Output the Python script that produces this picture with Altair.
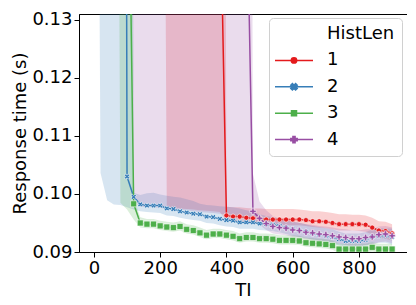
import math
import altair as alt
import pandas as pd

# ---------------- data ----------------
TI = list(range(0, 901, 20))
SERIES = ["1", "2", "3", "4"]
COLORS = ["#e41a1c", "#377eb8", "#4daf4a", "#984ea3"]
LEGEND_TITLE = "HistLen"

red_mean = [0.35] * 19 + [0.155, 0.0963, 0.0961, 0.0961, 0.0959, 0.0958, 0.0958, 0.0956, 0.0956, 0.0956,
                          0.0956, 0.0956, 0.0956, 0.0955, 0.0953, 0.0953, 0.0952, 0.0950, 0.0948, 0.0948,
                          0.0948, 0.0948, 0.0947, 0.0942, 0.0937, 0.0936, 0.0932]
red_lo = [0.3] * 11 + [0.0978, 0.0976, 0.0975, 0.0974, 0.0973, 0.0972, 0.0971, 0.0970, 0.0969, 0.0954,
                       0.0952, 0.0952, 0.0950, 0.0949, 0.0948, 0.0946, 0.0946, 0.0946, 0.0946, 0.0946,
                       0.0946, 0.0945, 0.0943, 0.0942, 0.0941, 0.0939, 0.0937, 0.0937, 0.0937, 0.0936,
                       0.0935, 0.0930, 0.0925, 0.0923, 0.0920]
red_hi = [0.5] * 20 + [0.0978, 0.0977, 0.0977, 0.0976, 0.0975, 0.0975, 0.0974, 0.0974, 0.0974, 0.0974,
                       0.0974, 0.0973, 0.0972, 0.0970, 0.0970, 0.0969, 0.0967, 0.0965, 0.0965, 0.0964,
                       0.0964, 0.0963, 0.0959, 0.0953, 0.0952, 0.0948]

blue_mean = [0.6] * 5 + [0.1030, 0.0995, 0.0982, 0.0980, 0.0980, 0.0980, 0.0975, 0.0974, 0.0970, 0.0968,
                         0.0966, 0.0965, 0.0961, 0.0960, 0.0957, 0.0955, 0.0954, 0.0951, 0.0951, 0.0951,
                         0.0949, 0.0948, 0.0947, 0.0945, 0.0942, 0.0939, 0.0937, 0.0935, 0.0932, 0.0930,
                         0.0928, 0.0926, 0.0922, 0.0919, 0.0919, 0.0919, 0.0921, 0.0926, 0.0928, 0.0928,
                         0.0926]
blue_lo = [0.3, 0.1036, 0.0989, 0.0982, 0.0981, 0.0977, 0.0973, 0.0970, 0.0969, 0.0968,
           0.0967, 0.0963, 0.0962, 0.0959, 0.0957, 0.0955, 0.0954, 0.0950, 0.0949, 0.0946,
           0.0944, 0.0943, 0.0940, 0.0940, 0.0940, 0.0938, 0.0937, 0.0936, 0.0934, 0.0931,
           0.0928, 0.0926, 0.0924, 0.0921, 0.0919, 0.0917, 0.0915, 0.0911, 0.0908, 0.0908,
           0.0908, 0.0910, 0.0914, 0.0916, 0.0916, 0.0913]
blue_hi = [0.5] * 6 + [0.1002, 0.0998, 0.1001, 0.1002, 0.0999, 0.0997, 0.0995, 0.0994, 0.0991, 0.0988,
                       0.0983, 0.0981, 0.0980, 0.0979, 0.0978, 0.0977, 0.0975, 0.0972, 0.0969, 0.0965,
                       0.0962, 0.0960, 0.0958, 0.0955, 0.0952, 0.0950, 0.0948, 0.0945, 0.0943, 0.0941,
                       0.0939, 0.0935, 0.0932, 0.0932, 0.0932, 0.0934, 0.0939, 0.0941, 0.0941, 0.0940]

green_mean = [0.4] * 5 + [0.180, 0.0983, 0.0950, 0.0948, 0.0948, 0.0945, 0.0943, 0.0942, 0.0944, 0.0939,
                          0.0937, 0.0933, 0.0929, 0.0931, 0.0931, 0.0929, 0.0927, 0.0923, 0.0925, 0.0925,
                          0.0923, 0.0923, 0.0922, 0.0920, 0.0920, 0.0920, 0.0919, 0.0916, 0.0915, 0.0914,
                          0.0913, 0.0911, 0.0905, 0.0905, 0.0905, 0.0905, 0.0905, 0.0908, 0.0905, 0.0905,
                          0.0905]
green_lo = [0.3] * 4 + [0.0985, 0.0973, 0.0956, 0.0942, 0.0941, 0.0941, 0.0938, 0.0936, 0.0935, 0.0937,
                        0.0932, 0.0930, 0.0926, 0.0922, 0.0924, 0.0924, 0.0922, 0.0920, 0.0916, 0.0918,
                        0.0918, 0.0916, 0.0916, 0.0915, 0.0913, 0.0913, 0.0913, 0.0912, 0.0909, 0.0908,
                        0.0907, 0.0906, 0.0904, 0.0898, 0.0898, 0.0898, 0.0898, 0.0898, 0.0901, 0.0898,
                        0.0898, 0.0898]
green_hi = [0.5] * 6 + [0.0992, 0.0960, 0.0957, 0.0957, 0.0954, 0.0952, 0.0951, 0.0953, 0.0948, 0.0946,
                        0.0942, 0.0938, 0.0940, 0.0940, 0.0938, 0.0936, 0.0932, 0.0934, 0.0934, 0.0932,
                        0.0932, 0.0931, 0.0929, 0.0929, 0.0929, 0.0928, 0.0925, 0.0924, 0.0923, 0.0922,
                        0.0920, 0.0914, 0.0914, 0.0914, 0.0914, 0.0914, 0.0917, 0.0914, 0.0914, 0.0914]

purple_mean = [0.3] * 23 + [0.157, 0.0970, 0.0958, 0.0949, 0.0944, 0.0942, 0.0941, 0.0938, 0.0937, 0.0934,
                            0.0933, 0.0931, 0.0930, 0.0928, 0.0926, 0.0925, 0.0923, 0.0923, 0.0925, 0.0926,
                            0.0930, 0.0931, 0.0928]
purple_lo = [0.3] * 6 + [0.0987, 0.0978, 0.0977, 0.0977, 0.0976, 0.0975, 0.0974, 0.0973, 0.0972, 0.0970,
                         0.0969, 0.0968, 0.0967, 0.0966, 0.0965, 0.0964, 0.0963, 0.0961, 0.0957, 0.0947,
                         0.0938, 0.0932, 0.0930, 0.0929, 0.0926, 0.0925, 0.0922, 0.0921, 0.0919, 0.0918,
                         0.0916, 0.0914, 0.0912, 0.0910, 0.0910, 0.0912, 0.0913, 0.0917, 0.0918, 0.0915]
purple_hi = [0.5] * 24 + [0.1035, 0.0987, 0.0972, 0.0962, 0.0957, 0.0955, 0.0952, 0.0951, 0.0948, 0.0947,
                          0.0945, 0.0944, 0.0942, 0.0940, 0.0939, 0.0937, 0.0937, 0.0939, 0.0940, 0.0944,
                          0.0945, 0.0942]

X_TICKS = [0, 200, 400, 600, 800]
Y_TICKS = [0.09, 0.10, 0.11, 0.12, 0.13]

# ---------------- table ----------------
means = [red_mean, blue_mean, green_mean, purple_mean]
los = [red_lo, blue_lo, green_lo, purple_lo]
his = [red_hi, blue_hi, green_hi, purple_hi]
rows = []
for s, m, lo, hi in zip(SERIES, means, los, his):
    for t, a, b, c in zip(TI, m, lo, hi):
        rows.append({"TI": t, "HistLen": s, "mean": a, "lo": b, "hi": c})
df = pd.DataFrame(rows)

# ---------------- marker shapes (styling) ----------------
def poly(pts, k=1.0):
    return "M" + "L".join(f"{x*k:.3f},{y*k:.3f}" for x, y in pts) + "Z"

w = 0.34
plus_pts = [(-1, -w), (-w, -w), (-w, -1), (w, -1), (w, -w), (1, -w),
            (1, w), (w, w), (w, 1), (-w, 1), (-w, w), (-1, w)]
r2 = math.sqrt(2)
x_pts = [((x - y) / r2, (x + y) / r2) for x, y in plus_pts]
X_PATH = poly(x_pts)
PLUS_PATH = poly(plus_pts)

LINE = "M-19,0H19"
LEG_SHAPES = [
    "M0,0",  # title row: no symbol (seaborn-style legend title)
    LINE + "M-2.7,0A2.7,2.7,0,1,1,2.7,0A2.7,2.7,0,1,1,-2.7,0Z",
    LINE + poly(x_pts, 3.4),
    LINE + "M-2.5,-2.5H2.5V2.5H-2.5Z",
    LINE + poly(plus_pts, 3.2),
]
LEG_DOMAIN = [LEGEND_TITLE] + SERIES
LEG_COLORS = ["white"] + COLORS

FONT = "DejaVu Sans"
FS = 18

x_enc = alt.X("TI:Q", scale=alt.Scale(domain=[-45, 945], nice=False, zero=False),
              axis=alt.Axis(values=X_TICKS, title="TI", grid=False))
color_enc = alt.Color("HistLen:N", scale=alt.Scale(domain=SERIES, range=COLORS), legend=None)
y_scale = alt.Scale(domain=[0.09, 0.131], nice=False, zero=False)

base = alt.Chart(df)

bands = base.mark_area(opacity=0.2, clip=True).encode(
    x=x_enc,
    y=alt.Y("lo:Q", scale=y_scale,
            axis=alt.Axis(values=Y_TICKS, format=".2f", title="Response time (s)", grid=False)),
    y2="hi:Q",
    color=color_enc,
)

lines = base.mark_line(strokeWidth=1.5, clip=True).encode(
    x=x_enc,
    y=alt.Y("mean:Q", scale=y_scale),
    color=color_enc,
)

points = base.mark_point(filled=True, opacity=1, stroke="white", strokeWidth=0.6, clip=True).encode(
    x=x_enc,
    y=alt.Y("mean:Q", scale=y_scale),
    color=color_enc,
    shape=alt.Shape("HistLen:N", scale=alt.Scale(domain=SERIES, range=["circle", X_PATH, "square", PLUS_PATH]),
                    legend=None),
    size=alt.Size("HistLen:N", scale=alt.Scale(domain=SERIES, range=[26, 42, 24, 40]), legend=None),
)

legend = alt.Legend(
    title=None, orient="none", legendX=190, legendY=4, padding=7,
    strokeColor="#d0d0d0", fillColor="white", cornerRadius=4,
    labelFont=FONT, labelFontSize=FS, labelColor="black",
    labelOffset=24, symbolSize=4, symbolOffset=9, rowPadding=8.4,
    symbolOpacity=1, symbolStrokeWidth=1.5,
)

# invisible layer that only carries the legend (line + marker symbols)
legend_layer = base.mark_point(filled=True, opacity=0, clip=True).encode(
    x=x_enc,
    y=alt.Y("mean:Q", scale=y_scale),
    fill=alt.Fill("HistLen:N", scale=alt.Scale(domain=LEG_DOMAIN, range=LEG_COLORS), legend=legend),
    stroke=alt.Stroke("HistLen:N", scale=alt.Scale(domain=LEG_DOMAIN, range=LEG_COLORS), legend=legend),
    shape=alt.Shape("HistLen:N", scale=alt.Scale(domain=LEG_DOMAIN, range=LEG_SHAPES), legend=legend),
)

chart = alt.layer(bands, lines, points, legend_layer).resolve_scale(
    shape="independent", fill="independent", stroke="independent"
).properties(
    width=328, height=238,
    padding={"left": 3, "top": 2, "right": 0, "bottom": 0},
).configure_view(
    stroke="black", strokeWidth=1
).configure_axis(
    labelFont=FONT, titleFont=FONT, labelFontSize=FS, titleFontSize=FS,
    labelColor="black", titleColor="black", titleFontWeight="normal",
    domainColor="black", tickColor="black", tickSize=5, tickWidth=1,
    labelPadding=2,
).configure_axisX(titlePadding=4).configure_axisY(titlePadding=2)

chart.save("out.html", embed_options={"renderer": "svg", "actions": False})
